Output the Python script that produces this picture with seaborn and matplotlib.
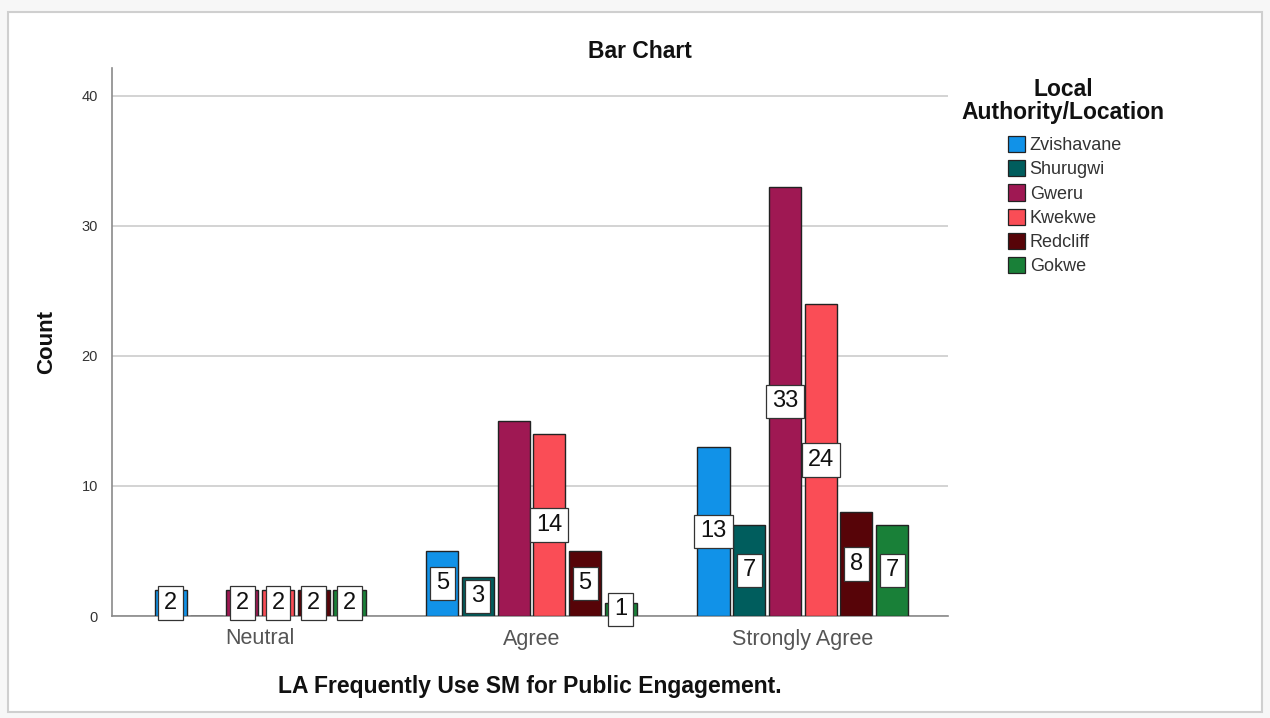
import matplotlib
matplotlib.use("Agg")
import matplotlib.pyplot as plt
from matplotlib.patches import Rectangle, Patch
import seaborn as sns
import pandas as pd

# Response categories and local authorities
categories = ["Neutral", "Agree", "Strongly Agree"]
locations = ["Zvishavane", "Shurugwi", "Gweru", "Kwekwe", "Redcliff", "Gokwe"]

# Counts per location, in category order
zvishavane = [2, 5, 13]
shurugwi = [0, 3, 7]
gweru = [2, 15, 33]
kwekwe = [2, 14, 24]
redcliff = [2, 5, 8]
gokwe = [2, 1, 7]

# Value labels that are not printed
hidden_labels = [("Agree", "Gweru")]

palette = ["#1192e8", "#005d5d", "#9f1853", "#fa4d56", "#570408", "#198038"]

series = [zvishavane, shurugwi, gweru, kwekwe, redcliff, gokwe]
rows = []
for loc, vals in zip(locations, series):
    for cat, v in zip(categories, vals):
        rows.append({"category": cat, "location": loc, "count": v})
df = pd.DataFrame(rows)

sns.set_style("white")
plt.rcParams["font.family"] = ["Liberation Sans", "DejaVu Sans"]

fig = plt.figure(figsize=(12.7, 7.18), dpi=100)
fig.patch.set_facecolor("#f7f7f7")
# white card with a thin grey border
fig.patches.append(Rectangle((8 / 1270, 6 / 718), 1254 / 1270, 700 / 718,
                             transform=fig.transFigure, facecolor="white",
                             edgecolor="#cfcfcf", linewidth=1.5, zorder=-10))

ax = fig.add_axes([112 / 1270, 1 - 616 / 718, 836 / 1270, 548 / 718])
ax.set_facecolor("none")

sns.barplot(data=df, x="category", y="count", hue="location",
            order=categories, hue_order=locations, palette=palette,
            width=0.79, gap=0.1, saturation=1, edgecolor="#222222",
            linewidth=1.0, legend=False, ax=ax, zorder=3)

ax.set_ylim(0, 42.15)
ax.set_xlim(-0.546, 2.535)
ax.set_yticks([0, 10, 20, 30, 40])
ax.yaxis.grid(True, color="#cccccc", linewidth=1.2, zorder=0)
ax.set_axisbelow(True)

for s in ["top", "right"]:
    ax.spines[s].set_visible(False)
for s in ["left", "bottom"]:
    ax.spines[s].set_color("#8a8a8a")
    ax.spines[s].set_linewidth(1.2)

ax.tick_params(axis="both", length=0)
ax.tick_params(axis="y", pad=10, labelsize=10.5, labelcolor="#333333")
ax.tick_params(axis="x", pad=9, labelsize=15.5, labelcolor="#555555")

ax.set_xlabel("LA Frequently Use SM for Public Engagement.", fontsize=16.5,
              fontweight="bold", color="#111111", labelpad=18)
ax.set_ylabel("Count", fontsize=16, fontweight="bold", color="#111111",
              labelpad=18)

fig.text(640 / 1270, 1 - 51 / 718, "Bar Chart", ha="center", va="center",
         fontsize=16.5, fontweight="bold", color="#111111")

# value labels centred in each bar
for loc, container in zip(locations, ax.containers):
    for cat, bar in zip(categories, container):
        h = bar.get_height()
        if h <= 0 or (cat, loc) in hidden_labels:
            continue
        ax.text(bar.get_x() + bar.get_width() / 2, h / 2, f"{int(h)}",
                ha="center", va="center", fontsize=17, color="#111111",
                zorder=5,
                bbox=dict(boxstyle="square,pad=0.25", facecolor="white",
                          edgecolor="#333333", linewidth=0.9))

# legend
fig.text(1063 / 1270, 1 - 101 / 718, "Local\nAuthority/Location",
         ha="center", va="center", fontsize=16.5, fontweight="bold",
         color="#111111", linespacing=1.0)
handles = [Patch(facecolor=c, edgecolor="#222222", linewidth=0.9)
           for c in palette]
fig.legend(handles, locations, loc="upper left",
           bbox_to_anchor=(1008 / 1270, 1 - 136 / 718), frameon=False,
           fontsize=13, labelspacing=0.33, handlelength=0.95,
           handleheight=1.0, handletextpad=0.25, borderaxespad=0,
           borderpad=0, labelcolor="#333333")

fig.savefig("out.png", dpi=100, facecolor=fig.get_facecolor())
